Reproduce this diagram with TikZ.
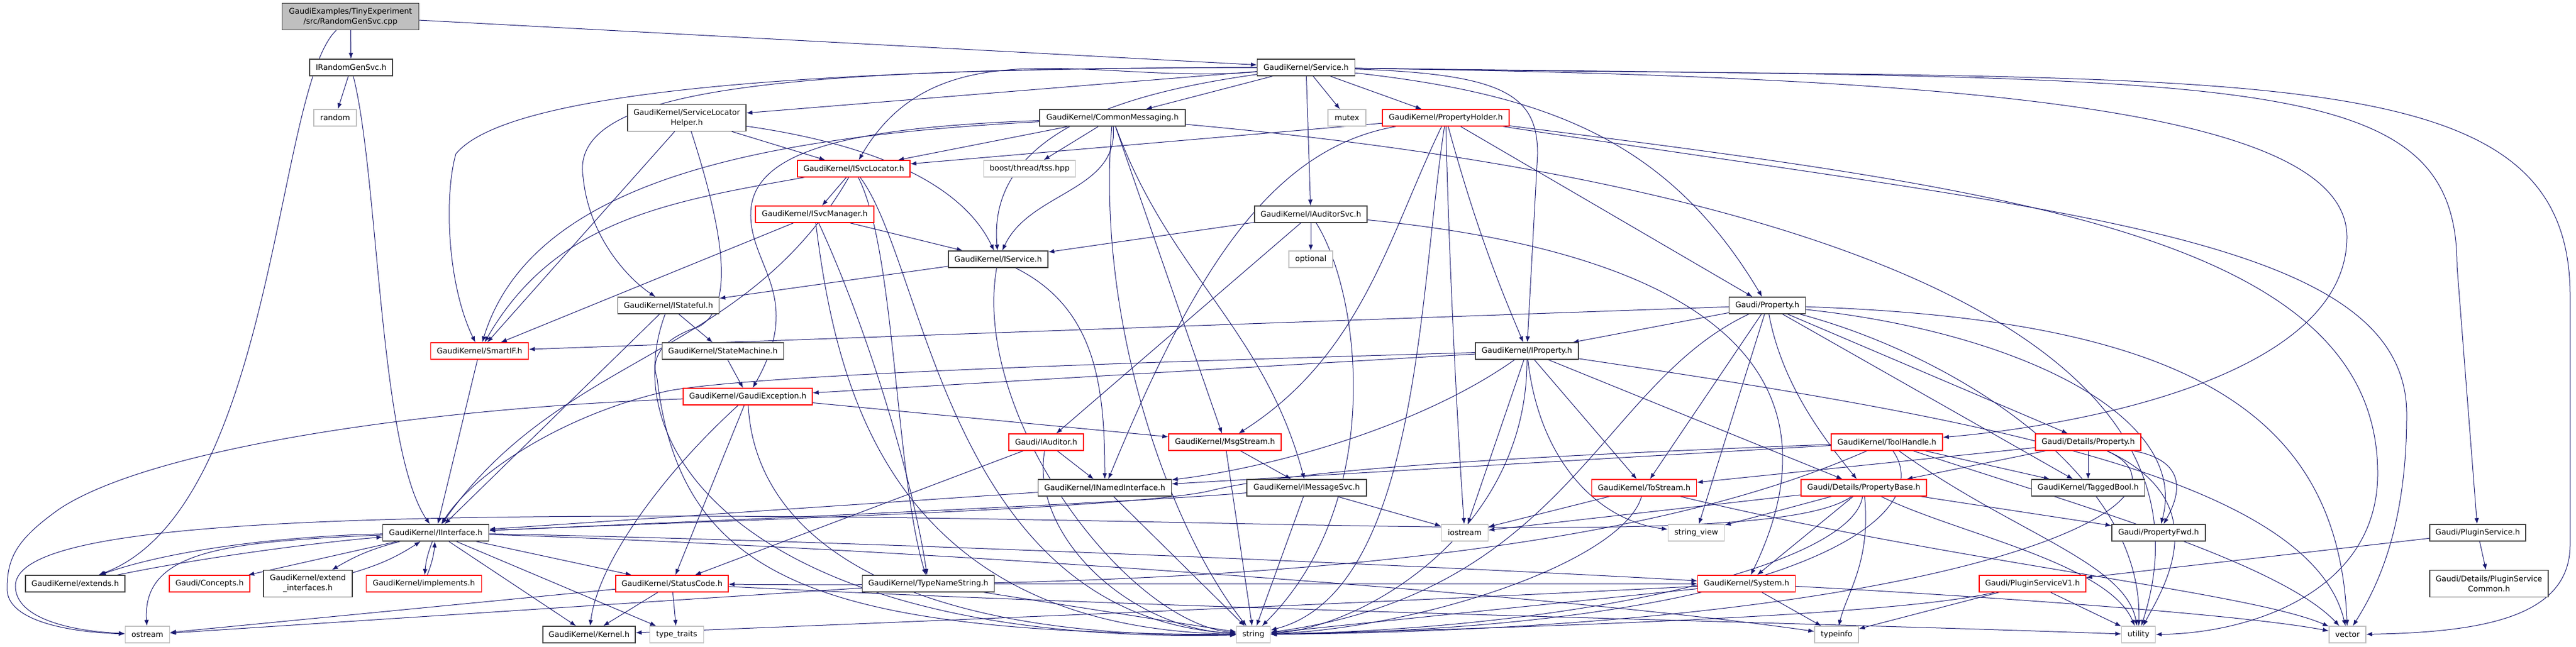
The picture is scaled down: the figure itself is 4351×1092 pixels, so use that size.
\documentclass[tikz,border=0pt]{standalone}
\usepackage{fontspec}
\setmainfont{DejaVu Sans}
\usetikzlibrary{arrows.meta}
\definecolor{edgeblue}{HTML}{191970}
\definecolor{boxgray}{HTML}{404040}
\definecolor{sysgray}{HTML}{BFBFBF}
\tikzset{
    hdr/.style={draw=boxgray, line width=1.4pt, fill=white, minimum height=28pt,
        inner xsep=4pt, inner ysep=2pt, align=center,
        font=\fontsize{13}{17}\selectfont},
    hdrred/.style={hdr, draw=red},
    sys/.style={hdr, draw=sysgray},
    rootbox/.style={hdr, fill=sysgray},
    wd/.style={minimum width=#1pt},
    dep/.style={->, draw=edgeblue, line width=1pt},
    >={Latex[length=10pt,width=7.5pt]}}
\pgfdeclarelayer{bg}
\pgfsetlayers{bg,main}

\begin{document}
\begin{tikzpicture}[x=1pt, y=-1pt]
    \useasboundingbox (0,0) rectangle (4351,1092);

    \node[rootbox, wd=231, minimum height=45pt] (root) at (592,28) {GaudiExamples/TinyExperiment\\/src/RandomGenSvc.cpp};
    \node[hdr, wd=140] (irandom) at (593,114) {IRandomGenSvc.h};
    \node[hdr, wd=165] (service) at (2206,114) {GaudiKernel/Service.h};

    \node[sys, wd=72] (random) at (566,199) {random};
    \node[hdr, wd=200, minimum height=45pt] (slhelper) at (1160,199) {GaudiKernel/ServiceLocator\\Helper.h};
    \node[hdr, wd=246] (commsg) at (1879,199) {GaudiKernel/CommonMessaging.h};
    \node[sys, wd=64] (mutex) at (2275,199) {mutex};
    \node[hdrred, wd=214] (propholder) at (2442,199) {GaudiKernel/PropertyHolder.h};

    \node[hdrred, wd=190] (isvcloc) at (1442,285) {GaudiKernel/ISvcLocator.h};
    \node[sys, wd=155] (boosttss) at (1739,285) {boost/thread/tss.hpp};

    \node[hdrred, wd=200] (isvcmgr) at (1376,362) {GaudiKernel/ISvcManager.h};
    \node[hdr, wd=190] (iauditorsvc) at (2214,362) {GaudiKernel/IAuditorSvc.h};

    \node[hdr, wd=168] (iservice) at (1686,438) {GaudiKernel/IService.h};
    \node[sys, wd=74] (optional) at (2214,438) {optional};

    \node[hdr, wd=171] (istateful) at (1129,516) {GaudiKernel/IStateful.h};
    \node[hdr, wd=129] (property) at (2985,516) {Gaudi/Property.h};

    \node[hdrred, wd=165] (smartif) at (810,593) {GaudiKernel/SmartIF.h};
    \node[hdr, wd=205] (statemachine) at (1221,593) {GaudiKernel/StateMachine.h};
    \node[hdr, wd=174] (iproperty) at (2579,593) {GaudiKernel/IProperty.h};

    \node[hdrred, wd=218] (gaudiexc) at (1263,670) {GaudiKernel/GaudiException.h};

    \node[hdrred, wd=126] (iauditor) at (1767,747) {Gaudi/IAuditor.h};
    \node[hdrred, wd=190] (msgstream) at (2069,747) {GaudiKernel/MsgStream.h};
    \node[hdrred, wd=188] (toolhandle) at (3187,747) {GaudiKernel/ToolHandle.h};
    \node[hdrred, wd=178] (detprop) at (3527,747) {Gaudi/Details/Property.h};

    \node[hdr, wd=225] (inamed) at (1866,824) {GaudiKernel/INamedInterface.h};
    \node[hdr, wd=202] (imsgsvc) at (2207,824) {GaudiKernel/IMessageSvc.h};
    \node[hdrred, wd=177] (tostream) at (2777,824) {GaudiKernel/ToStream.h};
    \node[hdrred, wd=212] (propbase) at (3148,824) {Gaudi/Details/PropertyBase.h};
    \node[hdr, wd=191] (taggedbool) at (3527,824) {GaudiKernel/TaggedBool.h};

    \node[hdr, wd=179] (iinterface) at (736,900) {GaudiKernel/IInterface.h};
    \node[sys, wd=79] (iostream) at (2474,900) {iostream};
    \node[sys, wd=95] (stringview) at (2865,900) {string\_view};
    \node[hdr, wd=158] (propfwd) at (3646,900) {Gaudi/PropertyFwd.h};
    \node[hdr, wd=162] (pluginsvc) at (4185,900) {Gaudi/PluginService.h};

    \node[hdr, wd=168] (extends) at (127,986) {GaudiKernel/extends.h};
    \node[hdrred, wd=136] (concepts) at (354,986) {Gaudi/Concepts.h};
    \node[hdr, wd=150, minimum height=45pt] (extendif) at (520,986) {GaudiKernel/extend\\\_interfaces.h};
    \node[hdrred, wd=195] (implements) at (716,986) {GaudiKernel/implements.h};
    \node[hdrred, wd=190] (statuscode) at (1135,986) {GaudiKernel/StatusCode.h};
    \node[hdr, wd=223] (typename) at (1568,986) {GaudiKernel/TypeNameString.h};
    \node[hdrred, wd=165] (system) at (2950,986) {GaudiKernel/System.h};
    \node[hdrred, wd=180] (pluginv1) at (3433,986) {Gaudi/PluginServiceV1.h};
    \node[hdr, wd=200, minimum height=45pt] (plugincommon) at (4204,986) {Gaudi/Details/PluginService\\Common.h};

    \node[sys, wd=75] (ostream) at (249,1072) {ostream};
    \node[hdr, wd=156] (kernel) at (995,1072) {GaudiKernel/Kernel.h};
    \node[sys, wd=91] (typetraits) at (1143,1072) {type\_traits};
    \node[sys, wd=57] (string) at (2117,1072) {string};
    \node[sys, wd=74] (typeinfo) at (3102,1072) {typeinfo};
    \node[sys, wd=57] (utility) at (3612,1072) {utility};
    \node[sys, wd=62] (vector) at (3965,1072) {vector};

    \begin{pgfonlayer}{bg}
    \draw[dep] (root) -- (irandom);
    \draw[dep] (root) -- (service);
    \draw[dep] (root) .. controls (465,150) and (465,860) .. (extends);
    \draw[dep] (irandom) -- (random);
    \draw[dep] (irandom) .. controls (640,300) and (640,760) .. (iinterface);

    \draw[dep] (service) -- (slhelper);
    \draw[dep] (service) -- (commsg);
    \draw[dep] (service) -- (mutex);
    \draw[dep] (service) -- (propholder);
    \draw[dep] (service) -- (iauditorsvc);
    \draw[dep] (service) to[out=185,in=60] (isvcloc);
    \draw[dep] (service) to[out=188,in=95] (iservice);
    \draw[dep] (service) .. controls (1300,115) and (960,150) .. (985,300) .. controls (995,400) and (1060,470) .. (istateful);
    \draw[dep] (service) .. controls (1400,115) and (860,150) .. (770,260) .. controls (750,330) and (755,480) .. (smartif);
    \draw[dep] (service) .. controls (2540,125) and (2597,160) .. (2597,260) -- (iproperty);
    \draw[dep] (service) .. controls (2620,160) and (2820,240) .. (property);
    \draw[dep] (service) .. controls (3300,130) and (3964,180) .. (3964,400) .. controls (3964,640) and (3500,720) .. (toolhandle);
    \draw[dep] (service) .. controls (3800,135) and (4150,110) .. (4150,450) -- (pluginsvc);
    \draw[dep] (service) .. controls (3800,140) and (4341,80) .. (4341,500) -- (4341,920) .. controls (4341,1040) and (4200,1068) .. (vector);

    \draw[dep] (slhelper) -- (isvcloc);
    \draw[dep] (slhelper) -- (smartif);
    \draw[dep] (slhelper) .. controls (1450,240) and (1620,300) .. (iservice);
    \draw[dep] (slhelper) .. controls (1225,400) and (1240,520) .. (1180,552) .. controls (1110,575) and (1100,610) .. (1110,640) .. controls (1150,980) and (1380,1070) .. (string);

    \draw[dep] (commsg) -- (isvcloc);
    \draw[dep] (commsg) -- (boosttss);
    \draw[dep] (commsg) -- (msgstream);
    \draw[dep] (commsg) to[out=-85,in=65] (iservice);
    \draw[dep] (commsg) .. controls (1300,230) and (900,300) .. (smartif);
    \draw[dep] (commsg) .. controls (1450,215) and (1270,250) .. (1268,360) .. controls (1266,450) and (1360,500) .. (gaudiexc);
    \draw[dep] (commsg) to[out=-70,in=105] (imsgsvc);
    \draw[dep] (commsg) .. controls (1850,550) and (1980,900) .. (string);
    \draw[dep] (commsg) .. controls (3000,300) and (3780,550) .. (utility);

    \draw[dep] (isvcloc) -- (isvcmgr);
    \draw[dep] (isvcloc) to[out=190,in=60] (smartif);
    \draw[dep] (isvcloc) to[out=-120,in=55] (iinterface);
    \draw[dep] (isvcloc) .. controls (1512,420) and (1512,800) .. (typename);
    \draw[dep] (isvcloc) .. controls (1565,450) and (1600,1040) .. (string);

    \draw[dep] (isvcmgr) -- (iservice);
    \draw[dep] (isvcmgr) -- (smartif);
    \draw[dep] (isvcmgr) .. controls (1463,550) and (1540,800) .. (typename);
    \draw[dep] (isvcmgr) .. controls (1412,650) and (1500,1060) .. (string);

    \draw[dep] (propholder) -- (isvcloc);
    \draw[dep] (propholder) -- (property);
    \draw[dep] (propholder) .. controls (2497,400) and (2540,500) .. (iproperty);
    \draw[dep] (propholder) .. controls (2150,250) and (2020,450) .. (inamed);
    \draw[dep] (propholder) .. controls (2345,400) and (2300,600) .. (msgstream);
    \draw[dep] (propholder) .. controls (2396,500) and (2396,1000) .. (string);
    \draw[dep] (propholder) .. controls (2446,400) and (2460,700) .. (iostream);
    \draw[dep] (propholder) .. controls (3400,320) and (4016,400) .. (4016,800) .. controls (4016,1000) and (3800,1070) .. (utility);
    \draw[dep] (propholder) .. controls (3500,360) and (4065,400) .. (4065,700) .. controls (4065,900) and (4010,1000) .. (vector);

    \draw[dep] (iauditorsvc) -- (iservice);
    \draw[dep] (iauditorsvc) -- (optional);
    \draw[dep] (iauditorsvc) -- (iauditor);
    \draw[dep] (iauditorsvc) .. controls (2300,500) and (2340,850) .. (string);
    \draw[dep] (iauditorsvc) .. controls (3000,440) and (3090,700) .. (system);

    \draw[dep] (iauditor) -- (inamed);
    \draw[dep] (iauditor) -- (statuscode);
    \draw[dep] (iauditor) .. controls (1740,900) and (1900,1060) .. (string);

    \draw[dep] (istateful) -- (statemachine);
    \draw[dep] (istateful) -- (iinterface);
    \draw[dep] (istateful) .. controls (1030,780) and (1300,1090) .. (string);

    \draw[dep] (iservice) -- (istateful);
    \draw[dep] (iservice) .. controls (1850,520) and (1866,650) .. (inamed);
    \draw[dep] (iservice) .. controls (1640,700) and (1900,1050) .. (string);

    \draw[dep] (smartif) -- (iinterface);
    \draw[dep] (statemachine) -- (gaudiexc);

    \draw[dep] (gaudiexc) -- (msgstream);
    \draw[dep] (gaudiexc) -- (statuscode);
    \draw[dep] (gaudiexc) .. controls (1120,800) and (1010,950) .. (kernel);
    \draw[dep] (gaudiexc) .. controls (700,690) and (250,760) .. (100,860) .. controls (30,910) and (12,940) .. (12,995) .. controls (12,1050) and (120,1068) .. (ostream);
    \draw[dep] (gaudiexc) .. controls (1275,900) and (1500,1080) .. (string);

    \draw[dep] (msgstream) -- (imsgsvc);
    \draw[dep] (msgstream) -- (string);
    \draw[dep] (inamed) -- (iinterface);
    \draw[dep] (inamed) -- (string);
    \draw[dep] (imsgsvc) .. controls (1900,850) and (1200,880) .. (iinterface);
    \draw[dep] (imsgsvc) -- (iostream);
    \draw[dep] (imsgsvc) -- (string);

    \draw[dep] (property) -- (iproperty);
    \draw[dep] (property) -- (tostream);
    \draw[dep] (property) -- (stringview);
    \draw[dep] (property) .. controls (3010,650) and (3080,740) .. (propbase);
    \draw[dep] (property) -- (detprop);
    \draw[dep] (property) -- (taggedbool);
    \draw[dep] (property) -- (smartif);
    \draw[dep] (property) .. controls (3400,560) and (3700,700) .. (propfwd);
    \draw[dep] (property) .. controls (2700,650) and (2650,1000) .. (string);
    \draw[dep] (property) .. controls (3300,600) and (3620,800) .. (utility);
    \draw[dep] (property) .. controls (3700,540) and (3950,700) .. (vector);

    \draw[dep] (iproperty) -- (iostream);
    \draw[dep] (iproperty) -- (tostream);
    \draw[dep] (iproperty) -- (propbase);
    \draw[dep] (iproperty) -- (gaudiexc);
    \draw[dep] (iproperty) .. controls (2600,780) and (2700,880) .. (stringview);
    \draw[dep] (iproperty) .. controls (2400,720) and (2150,790) .. (inamed);
    \draw[dep] (iproperty) .. controls (2000,610) and (1300,630) .. (1130,660) .. controls (950,700) and (800,800) .. (iinterface);
    \draw[dep] (iproperty) .. controls (2580,900) and (2300,1060) .. (string);
    \draw[dep] (iproperty) .. controls (3300,700) and (3900,800) .. (vector);

    \draw[dep] (toolhandle) -- (inamed);
    \draw[dep] (toolhandle) .. controls (2600,770) and (2200,790) .. (2040,830) .. controls (1900,860) and (1200,880) .. (iinterface);
    \draw[dep] (toolhandle) -- (taggedbool);
    \draw[dep] (toolhandle) .. controls (2950,850) and (2500,1000) .. (statuscode);
    \draw[dep] (toolhandle) .. controls (3280,880) and (3000,1060) .. (string);
    \draw[dep] (toolhandle) .. controls (3400,900) and (3590,950) .. (utility);
    \draw[dep] (toolhandle) .. controls (3500,850) and (3850,950) .. (vector);

    \draw[dep] (detprop) -- (tostream);
    \draw[dep] (detprop) -- (propbase);
    \draw[dep] (detprop) -- (taggedbool);
    \draw[dep] (detprop) .. controls (3700,780) and (3680,840) .. (propfwd);
    \draw[dep] (detprop) .. controls (3750,850) and (3650,1000) .. (utility);
    \draw[dep] (detprop) .. controls (3750,850) and (3300,1060) .. (string);

    \draw[dep] (propbase) -- (iostream);
    \draw[dep] (propbase) -- (stringview);
    \draw[dep] (propbase) -- (system);
    \draw[dep] (propbase) -- (propfwd);
    \draw[dep] (propbase) .. controls (3160,950) and (3120,1000) .. (typeinfo);
    \draw[dep] (propbase) .. controls (3130,950) and (2700,1060) .. (string);
    \draw[dep] (propbase) .. controls (3300,900) and (3560,950) .. (utility);
    \draw[dep] (propbase) .. controls (3000,930) and (2200,875) .. (1200,872) .. controls (400,870) and (26,900) .. (26,990) .. controls (26,1045) and (120,1066) .. (ostream);

    \draw[dep] (tostream) -- (iostream);
    \draw[dep] (tostream) .. controls (2740,950) and (2400,1060) .. (string);
    \draw[dep] (tostream) .. controls (3300,950) and (3800,1000) .. (vector);

    \draw[dep] (system) -- (typeinfo);
    \draw[dep] (system) -- (string);
    \draw[dep] (system) .. controls (3400,1010) and (3800,1040) .. (vector);
    \draw[dep] (system) .. controls (2300,1020) and (1300,1060) .. (kernel);

    \draw[dep] (statuscode) -- (kernel);
    \draw[dep] (statuscode) -- (typetraits);
    \draw[dep] (statuscode) -- (ostream);
    \draw[dep] (statuscode) .. controls (2000,1030) and (3000,1050) .. (utility);

    \draw[dep] (typename) -- (ostream);
    \draw[dep] (typename) -- (string);
    \draw[dep] (typename) -- (system);

    \draw[dep] (iinterface) .. controls (500,905) and (300,925) .. (extends);
    \draw[dep] (extends) .. controls (350,940) and (550,915) .. (iinterface);
    \draw[dep] (iinterface) -- (concepts);
    \draw[dep] (iinterface) to[bend right=8] (extendif);
    \draw[dep] (extendif) to[bend right=8] (iinterface);
    \draw[dep] (iinterface) to[bend right=8] (implements);
    \draw[dep] (implements) to[bend right=8] (iinterface);
    \draw[dep] (iinterface) -- (statuscode);
    \draw[dep] (iinterface) -- (kernel);
    \draw[dep] (iinterface) -- (typetraits);
    \draw[dep] (iinterface) .. controls (1500,915) and (2500,960) .. (system);
    \draw[dep] (iinterface) .. controls (1500,925) and (2600,1000) .. (typeinfo);
    \draw[dep] (iinterface) .. controls (380,915) and (240,930) .. (ostream);

    \draw[dep] (pluginsvc) -- (pluginv1);
    \draw[dep] (pluginsvc) -- (plugincommon);
    \draw[dep] (pluginv1) -- (utility);
    \draw[dep] (pluginv1) -- (typeinfo);
    \draw[dep] (pluginv1) .. controls (3200,1040) and (2600,1060) .. (string);
    \end{pgfonlayer}

\end{tikzpicture}
\end{document}
